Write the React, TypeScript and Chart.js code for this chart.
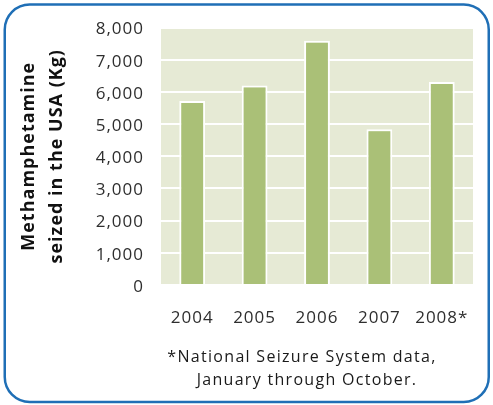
import React, { useEffect, useRef } from "react";
import { Chart, registerables } from "chart.js";

Chart.register(...registerables);

const years = ["2004", "2005", "2006", "2007", "2008*"];
const seizedKg = [5720, 6200, 7590, 4840, 6310];
const yTicks = [0, 1000, 2000, 3000, 4000, 5000, 6000, 7000, 8000];
const yTitleLines = ["Methamphetamine", "seized in the USA (Kg)"];
const footnoteLines = ["*National Seizure System data,", "January through October."];

const FONT = "'Open Sans', 'DejaVu Sans', sans-serif";

const spacing = {
  id: "spacing",
  beforeUpdate(chart: any) {
    (chart.ctx as any).letterSpacing = "1px";
  },
  beforeDraw(chart: any) {
    (chart.ctx as any).letterSpacing = "1px";
  },
};

const plotBg = {
  id: "plotBg",
  beforeDraw(chart: any) {
    const { ctx, chartArea } = chart;
    ctx.save();
    ctx.fillStyle = "#e6ead5";
    ctx.fillRect(chartArea.left, chartArea.top, chartArea.right - chartArea.left, chartArea.bottom - chartArea.top);
    ctx.restore();
  },
};

const frameAndNote = {
  id: "frameAndNote",
  afterDraw(chart: any) {
    const { ctx } = chart;
    ctx.save();
    ctx.strokeStyle = "#1f6fb6";
    ctx.lineWidth = 2.5;
    ctx.beginPath();
    (ctx as any).roundRect(4.75, 4.5, 484, 397.5, 25);
    ctx.stroke();
    (ctx as any).letterSpacing = "1.3px";
    ctx.fillStyle = "#1a1a1a";
    ctx.font = `16px ${FONT}`;
    ctx.textAlign = "center";
    ctx.textBaseline = "middle";
    ctx.fillText(footnoteLines[0], 302, 357);
    ctx.fillText(footnoteLines[1], 307, 380);
    ctx.restore();
  },
};

export default function App() {
  const ref = useRef<HTMLCanvasElement>(null);
  useEffect(() => {
    const chart = new Chart(ref.current!, {
      type: "bar",
      data: {
        labels: years,
        datasets: [
          {
            data: seizedKg,
            backgroundColor: "#aac077",
            borderColor: "#ffffff",
            borderWidth: 2,
            barPercentage: 0.414,
            categoryPercentage: 1,
          },
        ],
      },
      options: {
        animation: false,
        responsive: false,
        devicePixelRatio: 1,
        layout: { padding: { left: 4, right: 18, top: 27.5, bottom: 60 } },
        plugins: { legend: { display: false }, tooltip: { enabled: false }, title: { display: false } },
        scales: {
          x: {
            grid: { display: false, drawTicks: false },
            border: { display: false },
            ticks: { color: "#2e2e2e", font: { family: FONT, size: 17 }, padding: 22.8 },
            afterFit(scale: any) {
              scale.height = 60;
            },
          },
          y: {
            min: 0,
            max: 8000,
            afterBuildTicks(scale: any) {
              scale.ticks = yTicks.map((v) => ({ value: v }));
            },
            grid: { color: "#ffffff", lineWidth: 2, drawTicks: false },
            border: { display: false },
            ticks: {
              color: "#2e2e2e",
              font: { family: FONT, size: 17 },
              padding: 17,
              labelOffset: 2,
              callback: (v: any) => Number(v).toLocaleString("en-US"),
            },
            title: {
              display: true,
              text: yTitleLines,
              color: "#111111",
              font: { family: FONT, size: 18, weight: "bold", lineHeight: 28 / 18 },
              padding: { top: 11, bottom: 0 },
            },
            afterFit(scale: any) {
              scale.width = 157;
            },
          },
        },
      },
      plugins: [spacing, plotBg, frameAndNote],
    });
    return () => chart.destroy();
  }, []);
  return (
    <div style={{ position: "fixed", left: 0, top: 0, width: 493, height: 405, background: "#fff" }}>
      <canvas ref={ref} width={493} height={405} style={{ width: 493, height: 405, display: "block" }} />
    </div>
  );
}
